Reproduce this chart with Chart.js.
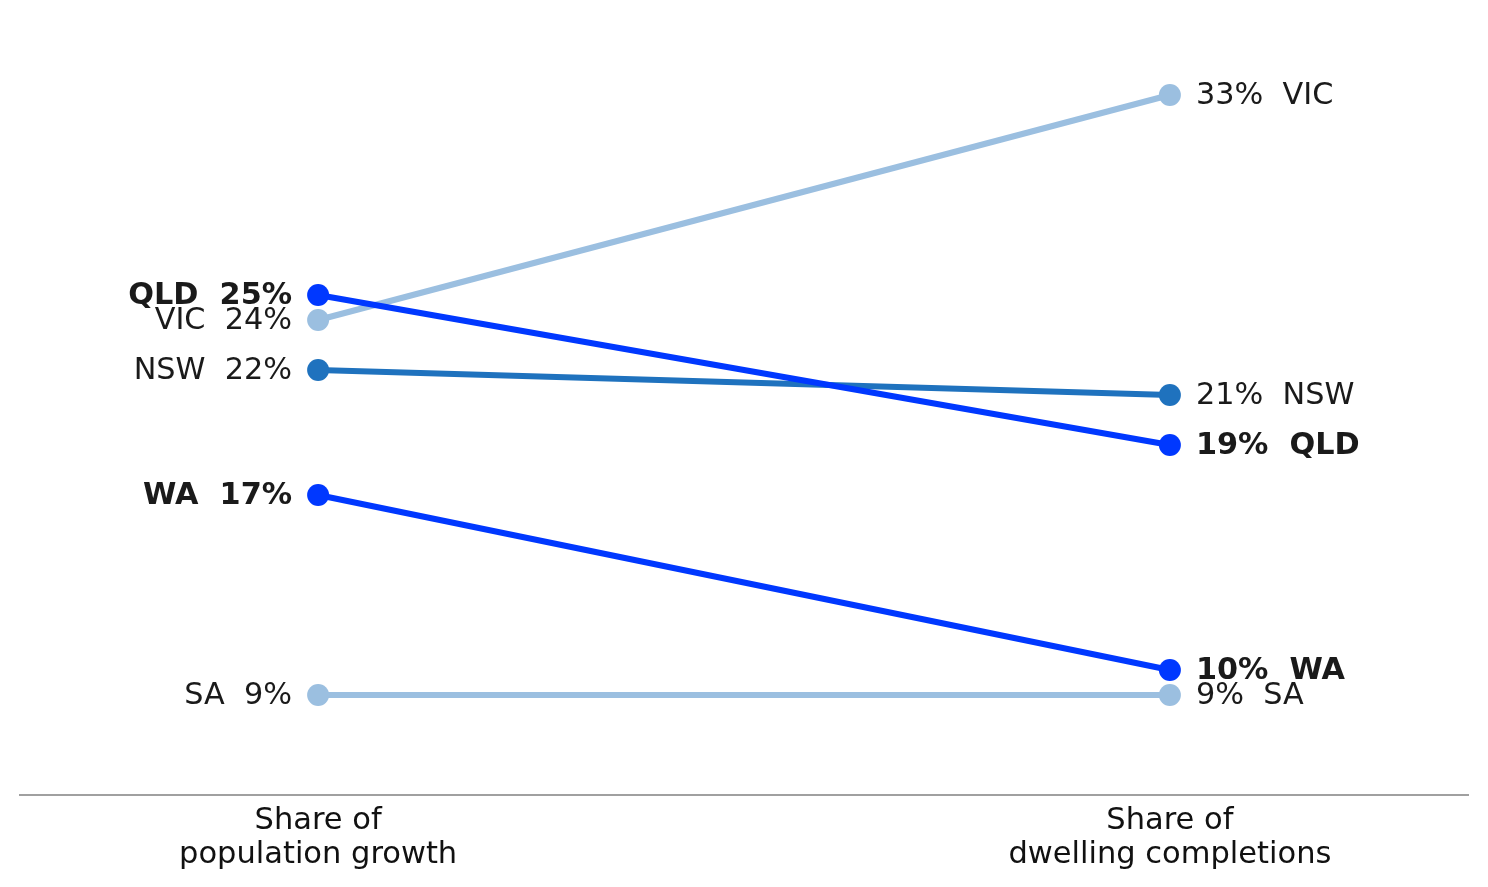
<!DOCTYPE html>
<html>
<head>
<meta charset="utf-8">
<script src="https://cdn.jsdelivr.net/npm/chart.js@4/dist/chart.umd.min.js"></script>
<style>
  html, body { margin: 0; padding: 0; background: #fff; }
  #wrap { width: 1488px; height: 887px; }
</style>
</head>
<body>
<div id="wrap"><canvas id="c" width="1488" height="887"></canvas></div>
<script>
const states = ['SA', 'VIC', 'NSW', 'WA', 'QLD'];
const populationGrowth = [9, 24, 22, 17, 25];
const dwellingCompletions = [9, 33, 21, 10, 19];
const stateColors = ['#9bbfe0', '#9bbfe0', '#1f72be', '#0038ff', '#0038ff'];
const boldStates = ['QLD', 'WA'];
const axisLabels = [['Share of', 'population growth'], ['Share of', 'dwelling completions']];

const FONT = '"DejaVu Sans", sans-serif';
const FSIZE = 30.3;
const AXSIZE = 30.5;

const datasets = states.map((s, i) => ({
  label: s,
  data: [{x: 0, y: populationGrowth[i]}, {x: 1, y: dwellingCompletions[i]}],
  showLine: true,
  borderColor: stateColors[i],
  backgroundColor: stateColors[i],
  pointBackgroundColor: stateColors[i],
  pointBorderWidth: 0,
  pointRadius: 11,
  pointHoverRadius: 11,
  borderWidth: 6,
  order: states.length - i
}));

const labelPlugin = {
  id: 'slopeLabels',
  afterDatasetsDraw(chart) {
    const ctx = chart.ctx;
    ctx.save();
    ctx.fillStyle = '#1a1a1a';
    ctx.textBaseline = 'middle';
    states.forEach((s, i) => {
      const meta = chart.getDatasetMeta(i);
      const bold = boldStates.includes(s);
      ctx.font = (bold ? 'bold ' : '') + FSIZE + 'px ' + FONT;
      const p0 = meta.data[0], p1 = meta.data[1];
      ctx.textAlign = 'right';
      ctx.fillText(s + '  ' + populationGrowth[i] + '%', p0.x - 26, p0.y + 1);
      ctx.textAlign = 'left';
      ctx.fillText(dwellingCompletions[i] + '%  ' + s, p1.x + 26, p1.y + 1);
    });
    ctx.restore();
  }
};

new Chart(document.getElementById('c'), {
  type: 'scatter',
  data: { datasets },
  plugins: [labelPlugin],
  options: {
    responsive: false,
    animation: false,
    devicePixelRatio: 1,
    layout: { padding: { left: 20, right: 20, top: 20, bottom: 0 } },
    plugins: { legend: { display: false }, tooltip: { enabled: false } },
    scales: {
      x: {
        type: 'linear',
        min: -0.35,
        max: 1.35,
        afterBuildTicks(scale) { scale.ticks = [{value: 0}, {value: 1}]; },
        afterFit(scale) { scale.height = 92; },
        grid: { display: false, drawTicks: false },
        border: { display: true, color: '#a0a0a0', width: 2 },
        ticks: {
          padding: 10,
          maxRotation: 0,
          autoSkip: false,
          color: '#111',
          font: { family: FONT, size: AXSIZE, lineHeight: 1.085 },
          callback(v) { return v === 0 ? axisLabels[0] : (v === 1 ? axisLabels[1] : ''); }
        }
      },
      y: {
        display: false,
        min: 5,
        max: 36
      }
    }
  }
});
</script>
</body>
</html>
